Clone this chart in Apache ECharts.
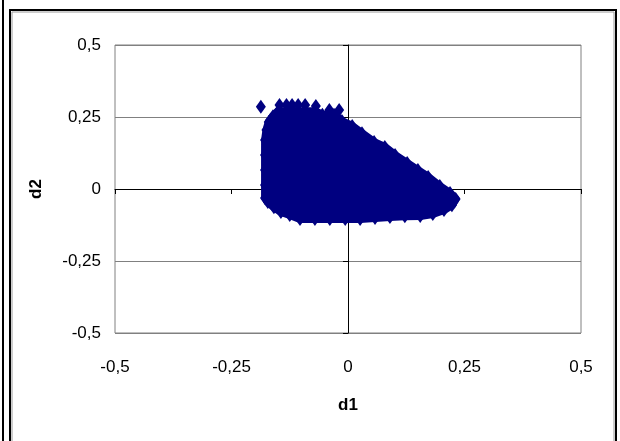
<!DOCTYPE html>
<html>
<head>
<meta charset="utf-8">
<script src="https://cdn.jsdelivr.net/npm/echarts@6/dist/echarts.min.js"></script>
<style>
html,body{margin:0;padding:0;background:#fff;}
#chart{width:620px;height:441px;}
</style>
</head>
<body>
<div id="chart"></div>
<script>
// Axis ticks
const axisTicks = [-0.5, -0.25, 0, 0.25, 0.5];
const xAxisTitle = 'd1';
const yAxisTitle = 'd2';

// Outline of the dense point cloud (d1, d2)
const blobOutline = [
  [-0.178,-0.031],[-0.178,0.014],[-0.178,0.066],[-0.178,0.118],[-0.178,0.170],
  [-0.175,0.205],[-0.170,0.233],[-0.161,0.253],
  [-0.150,0.270],[-0.070,0.270],[-0.055,0.258],[-0.030,0.258],
  [-0.013,0.236],[0.009,0.219],[0.030,0.194],[0.056,0.163],[0.079,0.146],
  [0.101,0.118],[0.127,0.090],[0.150,0.066],[0.172,0.042],[0.197,0.010],
  [0.219,-0.014],[0.231,-0.035],
  [0.223,-0.056],[0.206,-0.073],[0.182,-0.087],[0.155,-0.094],[0.122,-0.095],
  [0.090,-0.097],[0.058,-0.101],[0.026,-0.104],[-0.006,-0.104],[-0.039,-0.104],
  [-0.071,-0.104],[-0.103,-0.104],[-0.125,-0.090],[-0.144,-0.080],[-0.159,-0.063],
  [-0.172,-0.045]
];
// Top row of the cloud (individual diamonds)
const peakPoints = [
  [-0.147,0.292],[-0.132,0.292],[-0.120,0.292],[-0.107,0.292],[-0.092,0.292],
  [-0.069,0.288],[-0.040,0.274],[-0.019,0.274]
];
// Isolated points
const outlierPoints = [[-0.187,0.286]];

const fmt = v => String(v).replace('.', ',');
const lblFont = { fontFamily: 'Liberation Sans, Arial, sans-serif', fontSize: 17, color: '#000' };

const chart = echarts.init(document.getElementById('chart'), null, { renderer: 'canvas' });
chart.setOption({
  animation: false,
  backgroundColor: '#fff',
  grid: { left: 115, right: 39, top: 45, bottom: 108, show: true, borderColor: '#808080', borderWidth: 1, backgroundColor: 'transparent' },
  xAxis: [
    {
      type: 'value', min: axisTicks[0], max: axisTicks[axisTicks.length-1], interval: 0.25,
      position: 'bottom',
      axisLine: { show: false, onZero: false },
      axisTick: { show: false },
      splitLine: { show: false },
      axisLabel: Object.assign({ margin: 26, formatter: fmt }, lblFont),
      name: xAxisTitle, nameLocation: 'middle', nameGap: 64,
      nameTextStyle: { fontFamily: 'Liberation Sans, Arial, sans-serif', fontSize: 17, fontWeight: 'bold', color: '#000' }
    },
    {
      type: 'value', min: axisTicks[0], max: axisTicks[axisTicks.length-1], interval: 0.25,
      position: 'bottom',
      axisLine: { show: true, onZero: true, lineStyle: { color: '#000', width: 1 } },
      axisTick: { show: true, length: 5, lineStyle: { color: '#000' } },
      axisLabel: { show: false },
      splitLine: { show: false }
    }
  ],
  yAxis: [
    {
      type: 'value', min: axisTicks[0], max: axisTicks[axisTicks.length-1], interval: 0.25,
      position: 'left',
      axisLine: { show: false, onZero: false },
      axisTick: { show: false },
      splitLine: { show: true, lineStyle: { color: '#808080', width: 1 } },
      axisLabel: Object.assign({ margin: 14, formatter: fmt }, lblFont),
      name: yAxisTitle, nameLocation: 'middle', nameGap: 70, nameRotate: 90,
      nameTextStyle: { fontFamily: 'Liberation Sans, Arial, sans-serif', fontSize: 17, fontWeight: 'bold', color: '#000' }
    },
    {
      type: 'value', min: axisTicks[0], max: axisTicks[axisTicks.length-1], interval: 0.25,
      position: 'left',
      axisLine: { show: true, onZero: true, lineStyle: { color: '#000', width: 1 } },
      axisTick: { show: true, length: 5, lineStyle: { color: '#000' } },
      axisLabel: { show: false },
      splitLine: { show: false }
    }
  ],
  graphic: [
    { type: 'line', shape: { x1: 3, y1: 0, x2: 3, y2: 441 }, style: { stroke: '#000', lineWidth: 2 }, silent: true },
    { type: 'rect', shape: { x: 10, y: 10, width: 606, height: 445 }, style: { fill: 'none', stroke: '#000', lineWidth: 2 }, silent: true },
    { type: 'rect', shape: { x: 12, y: 12, width: 602, height: 445 }, style: { fill: 'none', stroke: '#9a9a9a', lineWidth: 1 }, silent: true }
  ],
  series: [
    {
      type: 'custom', xAxisIndex: 0, yAxisIndex: 0, silent: true, z: 2,
      data: [[0, 0]],
      renderItem: function (params, api) {
        return {
          type: 'polygon',
          shape: { points: blobOutline.map(p => api.coord(p)) },
          style: { fill: '#000080', stroke: '#000080', lineWidth: 8, lineJoin: 'round' }
        };
      }
    },
    {
      type: 'scatter', xAxisIndex: 0, yAxisIndex: 0, silent: true, z: 3,
      symbol: 'diamond', symbolSize: [10, 14],
      itemStyle: { color: '#000080', opacity: 1 },
      data: blobOutline.concat(peakPoints, outlierPoints)
    }
  ]
});
</script>
</body>
</html>
